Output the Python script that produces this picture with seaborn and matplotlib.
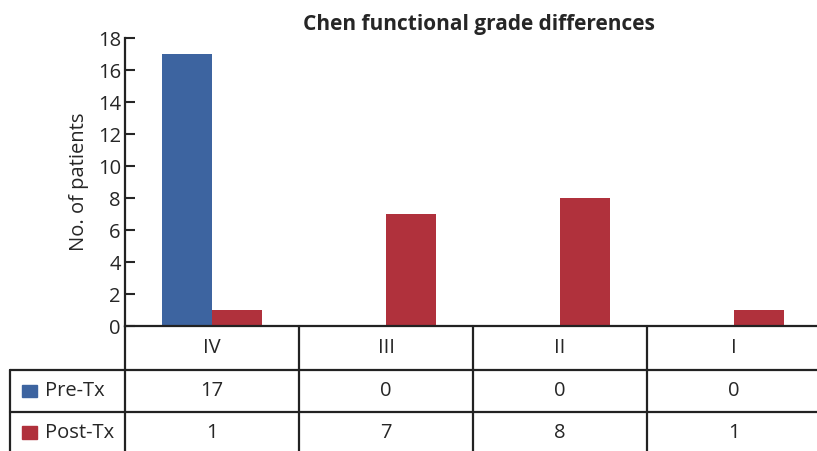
import pandas as pd
import matplotlib.pyplot as plt
from matplotlib.patches import Rectangle
import seaborn as sns

grades = ['IV', 'III', 'II', 'I']
pre_tx = [17, 0, 0, 0]
post_tx = [1, 7, 8, 1]
series = ['Pre-Tx', 'Post-Tx']
colors = ['#3D64A0', '#B0313C']

df = pd.DataFrame({
    'grade': grades * 2,
    'count': pre_tx + post_tx,
    'series': [series[0]] * 4 + [series[1]] * 4,
})

sns.set_style('white')
plt.rcParams['font.family'] = ['Open Sans', 'DejaVu Sans']
fs = 14.5

fig = plt.figure(figsize=(8.17, 4.51), dpi=100)
ax = fig.add_axes([125 / 817, 125 / 451, 696 / 817, 288 / 451])

sns.barplot(data=df, x='grade', y='count', hue='series', order=grades,
            hue_order=series, palette=colors, width=0.58, saturation=1,
            linewidth=0, legend=False, ax=ax)

ax.set_xlim(-0.5, 3.5)
ax.set_ylim(0, 18)
ax.set_yticks(range(0, 19, 2))
ax.tick_params(axis='y', direction='in', length=7, width=1.5, labelsize=fs,
               pad=3, left=True)
ax.tick_params(axis='x', bottom=False, labelbottom=False)
ax.set_xlabel('')
ax.set_ylabel('No. of patients', fontsize=fs, labelpad=6)
sns.despine(ax=ax)
for s in ['left', 'bottom']:
    ax.spines[s].set_color('#222222')
    ax.spines[s].set_linewidth(1.6)

ax.set_title('Chen functional grade differences', fontsize=15,
             fontweight='bold', pad=6, x=0.508)

# data table under the plot
tr_x = ax.get_xaxis_transform()          # x data, y axes
tr_a = ax.transAxes
line_kw = dict(color='#222222', lw=1.6, clip_on=False)
y_head = -0.153
y_row1 = -0.299
y_bot = -0.45

for b in [0.5, 1.5, 2.5]:
    ax.plot([b, b], [0, y_bot], transform=tr_x, **line_kw)
ax.plot([-0.165, 1.2], [y_head, y_head], transform=tr_a, **line_kw)
ax.plot([-0.165, 1.2], [y_row1, y_row1], transform=tr_a, **line_kw)
ax.plot([-0.165, -0.165], [y_head, y_bot], transform=tr_a, **line_kw)
ax.plot([0, 0], [0, y_bot], transform=tr_a, **line_kw)

for i, g in enumerate(grades):
    ax.text(i, -0.076, g, transform=tr_x, ha='center', va='center',
            fontsize=fs)
    ax.text(i, -0.226, str(pre_tx[i]), transform=tr_x, ha='center',
            va='center', fontsize=fs)
    ax.text(i, -0.37, str(post_tx[i]), transform=tr_x, ha='center',
            va='center', fontsize=fs)

for name, col, yc in zip(series, colors, [-0.226, -0.37]):
    ax.add_patch(Rectangle((-0.148, yc - 0.022), 0.021, 0.044,
                           transform=tr_a, color=col, clip_on=False))
    ax.text(-0.115, yc, name, transform=tr_a, ha='left', va='center',
            fontsize=fs)

fig.savefig('out.png', dpi=100)
